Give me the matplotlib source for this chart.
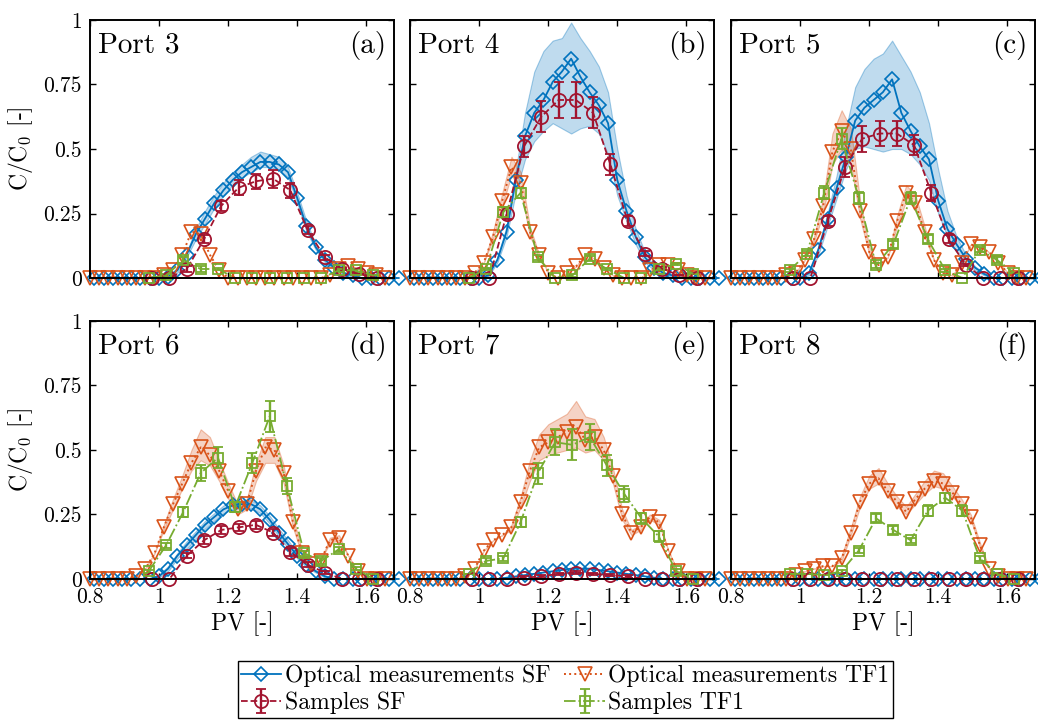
import matplotlib
matplotlib.use('Agg')
import matplotlib.pyplot as plt

plt.rcParams['font.family'] = 'serif'
plt.rcParams['font.serif'] = ['cmr10', 'DejaVu Serif']
plt.rcParams['mathtext.fontset'] = 'cm'
plt.rcParams['axes.formatter.use_mathtext'] = True

# PV grids
pv_sf = [0.8125, 0.8392, 0.8659, 0.8926, 0.9193, 0.946, 0.9727, 0.9994, 1.0261, 1.0528,
         1.0795, 1.1062, 1.1329, 1.1596, 1.1863, 1.213, 1.2397, 1.2664, 1.2931, 1.3198,
         1.3465, 1.3732, 1.3999, 1.4266, 1.4533, 1.48, 1.5067, 1.5334, 1.5601, 1.5868,
         1.6135, 1.6402, 1.6669, 1.6936]
pv_tf = [0.8, 0.8267, 0.8534, 0.8801, 0.9068, 0.9335, 0.9602, 0.9869, 1.0136, 1.0403,
         1.067, 1.0937, 1.1204, 1.1471, 1.1738, 1.2005, 1.2272, 1.2539, 1.2806, 1.3073,
         1.334, 1.3607, 1.3874, 1.4141, 1.4408, 1.4675, 1.4942, 1.5209, 1.5476, 1.5743,
         1.601, 1.6277, 1.6544]
pv_s_sf = [0.98, 1.03, 1.08, 1.13, 1.18, 1.23, 1.28, 1.33, 1.38, 1.43, 1.48, 1.53, 1.58, 1.63]
pv_s_tf = [0.97, 1.02, 1.07, 1.12, 1.17, 1.22, 1.27, 1.32, 1.37, 1.42, 1.47, 1.52, 1.57, 1.62]

ports = ['Port 3', 'Port 4', 'Port 5', 'Port 6', 'Port 7', 'Port 8']
tags = ['(a)', '(b)', '(c)', '(d)', '(e)', '(f)']

# optical measurements SF (mean, upper, lower)
a_sf = [0, 0, 0, 0, 0, 0, 0, 0, 0.005, 0.03, 0.09, 0.17, 0.23, 0.29, 0.34, 0.38, 0.41, 0.43, 0.45, 0.45, 0.44, 0.41, 0.31, 0.20, 0.12, 0.07, 0.04, 0.02, 0.01, 0, 0, 0, 0, 0]
a_sf_hi = [0, 0, 0, 0, 0, 0, 0, 0, 0.01, 0.04, 0.10, 0.19, 0.26, 0.32, 0.37, 0.41, 0.44, 0.47, 0.49, 0.48, 0.47, 0.43, 0.33, 0.22, 0.13, 0.08, 0.045, 0.025, 0.01, 0, 0, 0, 0, 0]
a_sf_lo = [0, 0, 0, 0, 0, 0, 0, 0, 0, 0.02, 0.08, 0.15, 0.21, 0.27, 0.32, 0.36, 0.39, 0.41, 0.43, 0.43, 0.42, 0.39, 0.29, 0.18, 0.11, 0.06, 0.035, 0.015, 0.005, 0, 0, 0, 0, 0]
b_sf = [0, 0, 0, 0, 0, 0, 0, 0, 0.01, 0.07, 0.18, 0.38, 0.55, 0.64, 0.69, 0.76, 0.80, 0.85, 0.78, 0.72, 0.67, 0.60, 0.38, 0.26, 0.16, 0.08, 0.04, 0.02, 0.01, 0, 0, 0, 0, 0]
b_sf_hi = [0, 0, 0, 0, 0, 0, 0, 0, 0.01, 0.08, 0.20, 0.42, 0.64, 0.80, 0.88, 0.92, 0.93, 0.99, 0.93, 0.88, 0.82, 0.72, 0.50, 0.32, 0.19, 0.10, 0.045, 0.02, 0.01, 0, 0, 0, 0, 0]
b_sf_lo = [0, 0, 0, 0, 0, 0, 0, 0, 0.005, 0.06, 0.16, 0.33, 0.46, 0.53, 0.57, 0.60, 0.58, 0.56, 0.58, 0.59, 0.56, 0.48, 0.32, 0.22, 0.13, 0.06, 0.03, 0.01, 0.005, 0, 0, 0, 0, 0]
c_sf = [0, 0, 0, 0, 0, 0, 0, 0, 0.02, 0.11, 0.23, 0.35, 0.47, 0.61, 0.66, 0.69, 0.72, 0.77, 0.64, 0.57, 0.51, 0.46, 0.30, 0.19, 0.13, 0.075, 0.04, 0.015, 0, 0, 0, 0, 0, 0]
c_sf_hi = [0, 0, 0, 0, 0, 0, 0, 0, 0.02, 0.12, 0.25, 0.40, 0.58, 0.74, 0.81, 0.85, 0.87, 0.92, 0.86, 0.80, 0.72, 0.60, 0.42, 0.26, 0.16, 0.09, 0.045, 0.02, 0, 0, 0, 0, 0, 0]
c_sf_lo = [0, 0, 0, 0, 0, 0, 0, 0, 0.01, 0.09, 0.20, 0.31, 0.42, 0.50, 0.51, 0.50, 0.49, 0.50, 0.50, 0.48, 0.44, 0.38, 0.25, 0.16, 0.10, 0.06, 0.03, 0.01, 0, 0, 0, 0, 0, 0]
d_sf = [0, 0, 0, 0, 0, 0, 0, 0.01, 0.04, 0.09, 0.13, 0.17, 0.21, 0.24, 0.27, 0.285, 0.29, 0.29, 0.27, 0.23, 0.18, 0.135, 0.09, 0.055, 0.03, 0.01, 0, 0, 0, 0, 0, 0, 0, 0]
d_sf_hi = [0, 0, 0, 0, 0, 0, 0, 0.015, 0.05, 0.10, 0.145, 0.185, 0.225, 0.255, 0.285, 0.30, 0.305, 0.305, 0.285, 0.245, 0.195, 0.15, 0.10, 0.065, 0.035, 0.015, 0, 0, 0, 0, 0, 0, 0, 0]
d_sf_lo = [0, 0, 0, 0, 0, 0, 0, 0.005, 0.03, 0.08, 0.115, 0.155, 0.195, 0.225, 0.255, 0.27, 0.275, 0.275, 0.255, 0.215, 0.165, 0.12, 0.08, 0.045, 0.025, 0.005, 0, 0, 0, 0, 0, 0, 0, 0]
e_sf = [0, 0, 0, 0, 0, 0, 0, 0, 0, 0, 0.005, 0.01, 0.015, 0.02, 0.025, 0.03, 0.035, 0.04, 0.04, 0.04, 0.035, 0.03, 0.025, 0.02, 0.015, 0.01, 0.005, 0, 0, 0, 0, 0, 0, 0]
f_sf = [0, 0, 0, 0, 0, 0, 0, 0, 0, 0, 0, 0, 0, 0, 0, 0, 0, 0, 0, 0, 0, 0, 0, 0, 0, 0, 0, 0, 0, 0, 0, 0, 0, 0]

# optical measurements TF1 (mean, upper, lower)
a_tf = [0, 0, 0, 0, 0, 0, 0, 0, 0.01, 0.03, 0.09, 0.18, 0.17, 0.09, 0.03, 0, 0, 0, 0, 0, 0, 0, 0, 0, 0, 0, 0.01, 0.035, 0.045, 0.035, 0.02, 0.01, 0]
b_tf = [0, 0, 0, 0, 0, 0, 0, 0.02, 0.06, 0.16, 0.30, 0.43, 0.37, 0.18, 0.09, 0.02, 0, 0.02, 0.045, 0.09, 0.075, 0.04, 0.01, 0, 0, 0, 0.03, 0.05, 0.05, 0.03, 0.01, 0, 0]
b_tf_hi = [0, 0, 0, 0, 0, 0, 0, 0.02, 0.06, 0.18, 0.33, 0.47, 0.41, 0.20, 0.09, 0.02, 0, 0.02, 0.045, 0.09, 0.075, 0.04, 0.01, 0, 0, 0, 0.03, 0.05, 0.05, 0.03, 0.01, 0, 0]
b_tf_lo = [0, 0, 0, 0, 0, 0, 0, 0.02, 0.06, 0.15, 0.28, 0.40, 0.34, 0.16, 0.09, 0.02, 0, 0.02, 0.045, 0.09, 0.075, 0.04, 0.01, 0, 0, 0, 0.03, 0.05, 0.05, 0.03, 0.01, 0, 0]
c_tf = [0, 0, 0, 0, 0, 0, 0.01, 0.02, 0.07, 0.15, 0.28, 0.49, 0.57, 0.50, 0.26, 0.10, 0.05, 0.08, 0.22, 0.33, 0.29, 0.18, 0.07, 0.02, 0.01, 0.06, 0.13, 0.12, 0.10, 0.06, 0.02, 0, 0]
c_tf_hi = [0, 0, 0, 0, 0, 0, 0.01, 0.02, 0.07, 0.16, 0.31, 0.56, 0.65, 0.58, 0.30, 0.12, 0.05, 0.08, 0.24, 0.36, 0.32, 0.20, 0.07, 0.02, 0.01, 0.06, 0.13, 0.12, 0.10, 0.06, 0.02, 0, 0]
c_tf_lo = [0, 0, 0, 0, 0, 0, 0.01, 0.02, 0.07, 0.14, 0.25, 0.44, 0.50, 0.44, 0.23, 0.09, 0.05, 0.08, 0.20, 0.30, 0.27, 0.16, 0.07, 0.02, 0.01, 0.06, 0.13, 0.12, 0.10, 0.06, 0.02, 0, 0]
d_tf = [0, 0, 0, 0, 0, 0.01, 0.04, 0.10, 0.20, 0.29, 0.37, 0.45, 0.51, 0.48, 0.42, 0.34, 0.27, 0.29, 0.42, 0.51, 0.50, 0.41, 0.22, 0.10, 0.06, 0.07, 0.15, 0.16, 0.09, 0.03, 0, 0, 0]
d_tf_hi = [0, 0, 0, 0, 0, 0.01, 0.04, 0.10, 0.21, 0.31, 0.40, 0.50, 0.58, 0.55, 0.46, 0.37, 0.29, 0.31, 0.45, 0.55, 0.55, 0.44, 0.24, 0.11, 0.06, 0.07, 0.16, 0.17, 0.09, 0.03, 0, 0, 0]
d_tf_lo = [0, 0, 0, 0, 0, 0.01, 0.04, 0.10, 0.19, 0.27, 0.35, 0.42, 0.46, 0.44, 0.38, 0.31, 0.25, 0.27, 0.38, 0.45, 0.45, 0.37, 0.20, 0.09, 0.06, 0.07, 0.14, 0.15, 0.09, 0.03, 0, 0, 0]
e_tf = [0, 0, 0, 0, 0, 0, 0.01, 0.04, 0.11, 0.15, 0.17, 0.20, 0.30, 0.42, 0.51, 0.53, 0.55, 0.57, 0.59, 0.54, 0.55, 0.50, 0.40, 0.25, 0.18, 0.20, 0.24, 0.22, 0.11, 0.03, 0, 0, 0]
e_tf_hi = [0, 0, 0, 0, 0, 0, 0.01, 0.04, 0.11, 0.15, 0.17, 0.21, 0.32, 0.46, 0.56, 0.60, 0.62, 0.64, 0.69, 0.63, 0.62, 0.55, 0.43, 0.27, 0.19, 0.21, 0.25, 0.23, 0.11, 0.03, 0, 0, 0]
e_tf_lo = [0, 0, 0, 0, 0, 0, 0.01, 0.04, 0.11, 0.15, 0.17, 0.19, 0.28, 0.38, 0.46, 0.48, 0.49, 0.50, 0.51, 0.49, 0.50, 0.46, 0.37, 0.23, 0.17, 0.19, 0.23, 0.21, 0.11, 0.03, 0, 0, 0]
f_tf = [0, 0, 0, 0, 0, 0, 0, 0.015, 0.03, 0.04, 0.05, 0.05, 0.08, 0.18, 0.30, 0.37, 0.39, 0.34, 0.30, 0.26, 0.31, 0.35, 0.38, 0.37, 0.335, 0.29, 0.24, 0.13, 0.04, 0.01, 0, 0, 0]
f_tf_hi = [0, 0, 0, 0, 0, 0, 0, 0.015, 0.03, 0.04, 0.05, 0.05, 0.09, 0.20, 0.32, 0.40, 0.43, 0.37, 0.32, 0.28, 0.33, 0.38, 0.42, 0.41, 0.36, 0.31, 0.25, 0.14, 0.04, 0.01, 0, 0, 0]
f_tf_lo = [0, 0, 0, 0, 0, 0, 0, 0.015, 0.03, 0.04, 0.05, 0.05, 0.07, 0.17, 0.28, 0.35, 0.37, 0.32, 0.28, 0.25, 0.29, 0.33, 0.36, 0.35, 0.32, 0.28, 0.23, 0.12, 0.04, 0.01, 0, 0, 0]

# samples SF (value, error)
a_ssf = [0, 0, 0.035, 0.15, 0.28, 0.35, 0.375, 0.385, 0.34, 0.185, 0.08, 0.035, 0.015, 0]
b_ssf = [0, 0, 0.25, 0.51, 0.625, 0.69, 0.69, 0.64, 0.44, 0.22, 0.095, 0.036, 0.01, 0]
c_ssf = [0, 0, 0.22, 0.43, 0.54, 0.56, 0.56, 0.515, 0.33, 0.15, 0.05, 0, 0, 0]
d_ssf = [0, 0, 0.09, 0.15, 0.19, 0.20, 0.21, 0.18, 0.105, 0.055, 0.025, 0, 0, 0]
e_ssf = [0, 0, 0, 0.005, 0.01, 0.02, 0.025, 0.02, 0.015, 0.01, 0, 0, 0, 0]
f_ssf = [0, 0, 0, 0, 0, 0, 0, 0, 0, 0, 0, 0, 0, 0]
a_ssf_err = [0, 0, 0.01, 0.015, 0.02, 0.03, 0.03, 0.035, 0.03, 0.015, 0.01, 0.005, 0, 0]
b_ssf_err = [0, 0, 0.02, 0.04, 0.06, 0.07, 0.07, 0.06, 0.04, 0.02, 0.01, 0.005, 0, 0]
c_ssf_err = [0, 0, 0.02, 0.04, 0.05, 0.05, 0.05, 0.04, 0.03, 0.015, 0.005, 0, 0, 0]
d_ssf_err = [0, 0, 0.01, 0.015, 0.015, 0.015, 0.015, 0.015, 0.015, 0.01, 0.005, 0, 0, 0]
e_ssf_err = [0, 0, 0, 0.005, 0.005, 0.005, 0.005, 0.005, 0.005, 0.005, 0, 0, 0, 0]
f_ssf_err = [0, 0, 0, 0, 0, 0, 0, 0, 0, 0, 0, 0, 0, 0]

# samples TF1 (value, error)
a_stf = [0, 0.01, 0.07, 0.035, 0.035, 0, 0, 0, 0, 0, 0, 0.03, 0.03, 0.01]
b_stf = [0, 0.035, 0.255, 0.33, 0.08, 0, 0.01, 0.075, 0.035, 0, 0, 0.035, 0.055, 0.015]
c_stf = [0.03, 0.095, 0.33, 0.54, 0.31, 0.05, 0.13, 0.31, 0.15, 0.03, 0, 0.11, 0.07, 0.02]
d_stf = [0.03, 0.13, 0.26, 0.41, 0.47, 0.28, 0.45, 0.63, 0.36, 0.10, 0.07, 0.115, 0.04, 0]
e_stf = [0.02, 0.07, 0.08, 0.22, 0.41, 0.53, 0.52, 0.55, 0.44, 0.33, 0.235, 0.165, 0.03, 0]
f_stf = [0.02, 0.02, 0.015, 0.03, 0.11, 0.235, 0.19, 0.15, 0.265, 0.315, 0.265, 0.08, 0.02, 0]
a_stf_err = [0, 0.005, 0.01, 0.01, 0.005, 0, 0, 0, 0, 0, 0, 0.005, 0.005, 0]
b_stf_err = [0, 0.005, 0.02, 0.02, 0.01, 0, 0.005, 0.01, 0.005, 0, 0, 0.005, 0.005, 0]
c_stf_err = [0.005, 0.01, 0.025, 0.04, 0.025, 0.01, 0.015, 0.025, 0.015, 0.005, 0, 0.01, 0.01, 0]
d_stf_err = [0.005, 0.01, 0.02, 0.03, 0.04, 0.02, 0.04, 0.06, 0.03, 0.01, 0.01, 0.01, 0.005, 0]
e_stf_err = [0, 0.01, 0.01, 0.02, 0.04, 0.05, 0.06, 0.05, 0.04, 0.03, 0.02, 0.02, 0.01, 0]
f_stf_err = [0, 0, 0, 0.005, 0.01, 0.015, 0.015, 0.01, 0.02, 0.02, 0.02, 0.01, 0.005, 0]

sf = [a_sf, b_sf, c_sf, d_sf, e_sf, f_sf]
sf_hi = [a_sf_hi, b_sf_hi, c_sf_hi, d_sf_hi, None, None]
sf_lo = [a_sf_lo, b_sf_lo, c_sf_lo, d_sf_lo, None, None]
tf = [a_tf, b_tf, c_tf, d_tf, e_tf, f_tf]
tf_hi = [None, b_tf_hi, c_tf_hi, d_tf_hi, e_tf_hi, f_tf_hi]
tf_lo = [None, b_tf_lo, c_tf_lo, d_tf_lo, e_tf_lo, f_tf_lo]
ssf = [a_ssf, b_ssf, c_ssf, d_ssf, e_ssf, f_ssf]
ssf_err = [a_ssf_err, b_ssf_err, c_ssf_err, d_ssf_err, e_ssf_err, f_ssf_err]
stf = [a_stf, b_stf, c_stf, d_stf, e_stf, f_stf]
stf_err = [a_stf_err, b_stf_err, c_stf_err, d_stf_err, e_stf_err, f_stf_err]

blue = (0, 0.447, 0.741)
orange = (0.85, 0.325, 0.098)
red = (0.635, 0.078, 0.184)
green = (0.466, 0.674, 0.188)

fig = plt.figure(figsize=(10.38, 7.24), dpi=100)
lefts = [0.0867, 0.395, 0.7042]
bottoms = [0.616, 0.2003]
w, h = 0.2929, 0.3564

for i in range(6):
    r, c = divmod(i, 3)
    ax = fig.add_axes([lefts[c], bottoms[r], w, h])

    # bands
    if sf_hi[i] is not None:
        ax.fill_between(pv_sf, sf_lo[i], sf_hi[i], facecolor=blue + (0.25,),
                        edgecolor=blue + (0.35,), lw=0.8)
    if tf_hi[i] is not None:
        ax.fill_between(pv_tf, tf_lo[i], tf_hi[i], facecolor=orange + (0.25,),
                        edgecolor=orange + (0.35,), lw=0.8)

    h1, = ax.plot(pv_sf, sf[i], '-', color=blue, marker='D', mfc='none', ms=7.3,
                  lw=1.3, mew=1.2, clip_on=False)
    h3, = ax.plot(pv_tf, tf[i], ':', color=orange, marker='v', mfc='none', ms=9.5,
                  lw=1.4, mew=1.2, clip_on=False)
    h2 = ax.errorbar(pv_s_sf, ssf[i], yerr=ssf_err[i], fmt='--o', color=red, mfc='none',
                     ms=9.5, lw=1.3, elinewidth=1.7, capsize=3.5, capthick=1.5, mew=1.3)
    h4 = ax.errorbar(pv_s_tf, stf[i], yerr=stf_err[i], fmt='-.s', color=green, mfc='none',
                     ms=7.5, lw=1.3, elinewidth=1.7, capsize=3.5, capthick=1.5, mew=1.3)
    for cont in (h2, h4):
        cont[0].set_clip_on(False)
        for a in cont[1]:
            a.set_clip_on(False)
        for a in cont[2]:
            a.set_clip_on(False)

    ax.set_xlim(0.8, 1.68)
    ax.set_ylim(0, 1)
    ax.set_xticks([0.8, 1, 1.2, 1.4, 1.6])
    ax.set_yticks([0, 0.25, 0.5, 0.75, 1])
    ax.tick_params(direction='in', top=True, right=True, length=4, width=1,
                   labelsize=15.5, pad=6)
    for s in ax.spines.values():
        s.set_linewidth(1.4)

    if r == 1:
        ax.set_xticklabels(['0.8', '1', '1.2', '1.4', '1.6'])
        ax.set_xlabel('PV [-]', fontsize=17, labelpad=3)
    else:
        ax.set_xticklabels([])
    if c == 0:
        ax.set_yticklabels(['0', '0.25', '0.5', '0.75', '1'])
        ax.set_ylabel('C/C$_0$ [-]', fontsize=17, labelpad=6)
    else:
        ax.set_yticklabels([])

    ax.text(0.026, 0.9, ports[i], transform=ax.transAxes, fontsize=21, va='center', ha='left')
    ax.text(0.975, 0.9, tags[i], transform=ax.transAxes, fontsize=21, va='center', ha='right')

fig.legend([h1, h2, h3, h4],
           ['Optical measurements SF', 'Samples SF', 'Optical measurements TF1', 'Samples TF1'],
           ncol=2, loc='upper center', bbox_to_anchor=(0.5445, 0.087), fontsize=17,
           frameon=True, fancybox=False, edgecolor='black', framealpha=1,
           handlelength=1.7, handletextpad=0.15, columnspacing=0.6, borderpad=0.15,
           labelspacing=0.2, borderaxespad=0)

fig.savefig('out.png', dpi=100)
